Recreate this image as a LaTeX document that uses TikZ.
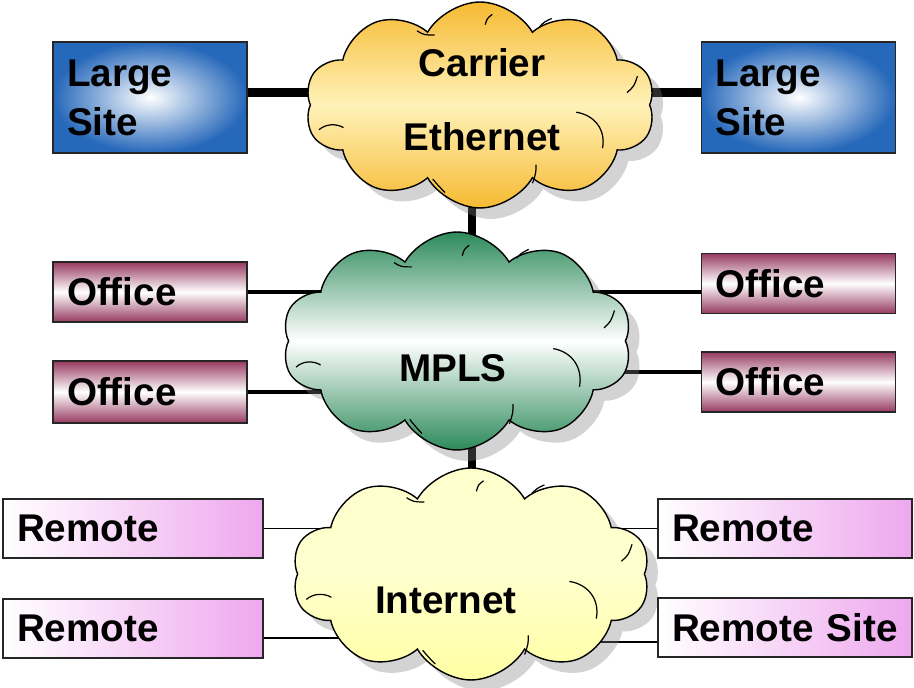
\documentclass[tikz,border=0pt]{standalone}
\usepackage{fontspec}
\setmainfont{Liberation Sans}
\usetikzlibrary{shapes.symbols,shadows,backgrounds}

\definecolor{siteblue}{RGB}{38,104,186}
\definecolor{officered}{RGB}{150,58,96}
\definecolor{remotepink}{RGB}{238,168,238}
\definecolor{carrierorange}{RGB}{246,186,50}
\definecolor{carrierlight}{RGB}{255,242,185}
\definecolor{mplsgreen}{RGB}{44,138,90}
\definecolor{netyellow}{RGB}{255,255,205}

\tikzset{
  lbl/.style={font=\bfseries\fontsize{22}{28}\selectfont},
  cloudlbl/.style={font=\bfseries\fontsize{22}{42}\selectfont, align=center},
  box/.style={draw=black!85, line width=0.8pt, inner xsep=0.28cm, align=left, lbl},
  sitebox/.style={box, text width=3.32cm, minimum height=2.22cm, inner color=white, outer color=siteblue},
  officebox/.style={box, text width=3.32cm, minimum height=1.2cm, top color=officered, bottom color=officered, middle color=white},
  remotebox/.style={box, minimum height=1.18cm, left color=white, right color=remotepink},
  netcloud/.style={cloud, cloud puffs=10, cloud puff arc=120, draw=black, line width=0.8pt, inner sep=0pt,
    drop shadow={shadow xshift=0.22cm, shadow yshift=-0.22cm, opacity=0.35}},
  curl/.style={line width=0.7pt},
  trunk line/.style={line width=5pt},
  office line/.style={line width=1.8pt},
  remote line/.style={line width=0.8pt}
}

% archetti interni della nuvola (coordinate normalizzate)
\newcommand{\cloudcurls}{
    \draw[curl] (-0.92,0.24) .. controls (-0.88,0.18) and (-0.82,0.18) .. (-0.78,0.22);
    \draw[curl] (-0.36,-0.72) .. controls (-0.32,-0.68) .. (-0.26,-0.68);
    \draw[curl] (0.03,-0.78) .. controls (0.04,-0.84) .. (0.07,-0.88);
    \draw[curl] (0.34,-0.76) .. controls (0.37,-0.81) .. (0.41,-0.84);
    \draw[curl] (0.84,-0.12) .. controls (0.88,-0.18) .. (0.9,-0.28);
    \draw[curl] (0.55,0.07) .. controls (0.66,0.1) and (0.72,0.25) .. (0.7,0.42);
    \draw[curl] (0.32,0.58) .. controls (0.32,0.66) .. (0.3,0.76);
    \draw[curl] (-0.27,0.72) .. controls (-0.24,0.78) .. (-0.2,0.85);
}

\begin{document}
\begin{tikzpicture}[x=0.02cm, y=-0.02cm]
    \useasboundingbox (0,0) rectangle (914,688);

    % Nuvole
    \node[netcloud, minimum width=7cm, minimum height=4.12cm, top color=carrierorange, bottom color=carrierorange, middle color=carrierlight] (carrier) at (480,105) {};
    \node[netcloud, minimum width=7cm, minimum height=4.36cm, top color=mplsgreen, bottom color=mplsgreen, middle color=white] (mpls) at (457,341) {};
    \node[netcloud, minimum width=7.16cm, minimum height=4.24cm, top color=netyellow, bottom color=netyellow!80!yellow, middle color=netyellow] (internet) at (471,574) {};

    \begin{scope}[shift={(carrier.center)}, x=3.5cm, y=-2.06cm] \cloudcurls \end{scope}
    \begin{scope}[shift={(mpls.center)}, x=3.5cm, y=-2.18cm] \cloudcurls \end{scope}
    \begin{scope}[shift={(internet.center)}, x=3.58cm, y=-2.12cm] \cloudcurls \end{scope}

    \node[cloudlbl] (carriertxt) at (482,100) {Carrier\\Ethernet};
    \node[cloudlbl] (mplstxt) at (453,368) {MPLS};
    \node[cloudlbl] (internettxt) at (446,600) {Internet};

    % Sedi
    \node[sitebox] (siteL) at (150,97.5) {Large\\Site};
    \node[sitebox] (siteR) at (798.5,97.5) {Large\\Site};

    \node[officebox] (officeL1) at (150,292) {Office};
    \node[officebox, minimum height=1.24cm] (officeL2) at (150,392) {Office};
    \node[officebox] (officeR1) at (798.5,283.5) {Office};
    \node[officebox] (officeR2) at (798.5,382) {Office};

    \node[remotebox, text width=4.64cm] (remoteL1) at (133,528.5) {Remote};
    \node[remotebox, text width=4.64cm] (remoteL2) at (133,628.5) {Remote};
    \node[remotebox, text width=4.52cm] (remoteR1) at (785,528.5) {Remote};
    \node[remotebox, text width=4.52cm] (remoteR2) at (785,627.5) {Remote\ Site};

    % Collegamenti (sotto le nuvole)
    \coordinate (bus) at (472,0);
    \begin{scope}[on background layer]
        \draw[trunk line] (bus |- carrier.center) -- (bus |- internet.center);

        \draw[trunk line] ([yshift=0.1cm]siteL.east) -- ([yshift=0.1cm]siteL.east -| carrier.center);
        \draw[trunk line] ([yshift=0.1cm]siteR.west) -- ([yshift=0.1cm]siteR.west -| carrier.center);

        \draw[office line] (officeL1.east) -- (officeL1.east -| mpls.center);
        \draw[office line] (officeL2.east) -- (officeL2.east -| mpls.center);
        \draw[office line] ([yshift=-0.17cm]officeR1.west) -- ([yshift=-0.17cm]officeR1.west -| mpls.center);
        \draw[office line] ([yshift=0.2cm]officeR2.west) -- ([yshift=0.2cm]officeR2.west -| mpls.center);

        \draw[remote line] (remoteL1.east) -- (remoteL1.east -| internet.center);
        \draw[remote line] ([yshift=-0.19cm]remoteL2.east) -- ([yshift=-0.19cm]remoteL2.east -| internet.center);
        \draw[remote line] (remoteR1.west) -- (remoteR1.west -| internet.center);
        \draw[remote line] ([yshift=-0.29cm]remoteR2.west) -- ([yshift=-0.29cm]remoteR2.west -| internet.center);
    \end{scope}

\end{tikzpicture}
\end{document}
